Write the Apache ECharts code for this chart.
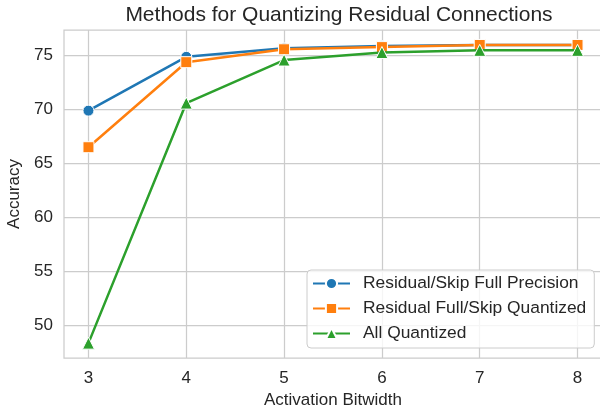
<!DOCTYPE html>
<html>
<head>
<meta charset="utf-8">
<script src="https://cdn.jsdelivr.net/npm/echarts@6/dist/echarts.min.js"></script>
<style>
  html, body { margin: 0; padding: 0; background: #fff; }
  #chart { width: 600px; height: 411px; }
</style>
</head>
<body>
<div id="chart"></div>
<script>
// bitwidths on the x axis
var bitwidths = [3, 4, 5, 6, 7, 8];
var yTicks = [50, 55, 60, 65, 70, 75];

// accuracy per method
var fullPrecision = [69.9, 74.9, 75.7, 75.9, 76.0, 76.0];
var residualFullSkipQuant = [66.5, 74.4, 75.6, 75.8, 76.0, 76.0];
var allQuantized = [48.3, 70.6, 74.6, 75.3, 75.5, 75.5];

var names = ['Residual/Skip Full Precision', 'Residual Full/Skip Quantized', 'All Quantized'];
var colors = ['#1f77b4', '#ff7f0e', '#2ca02c'];
var symbols = ['circle', 'rect', 'triangle'];
var symbolSizes = [11, 11, 12];

var font = '"Liberation Sans", Arial, sans-serif';
var textColor = '#262626';

function pairs(vals) {
  return bitwidths.map(function (b, i) { return [b, vals[i]]; });
}

var allData = [fullPrecision, residualFullSkipQuant, allQuantized];
var series = allData.map(function (vals, i) {
  return {
    name: names[i],
    type: 'line',
    data: pairs(vals),
    symbol: symbols[i],
    symbolSize: symbolSizes[i],
    showAllSymbol: true,
    lineStyle: { color: colors[i], width: 2.5 },
    itemStyle: { color: colors[i], borderColor: '#fff', borderWidth: 1 },
    emphasis: { disabled: true },
    z: 2 + i
  };
});

var chart = echarts.init(document.getElementById('chart'), null, { renderer: 'canvas' });
chart.setOption({
  animation: false,
  backgroundColor: '#fff',
  title: {
    text: 'Methods for Quantizing Residual Connections',
    left: 334,
    textAlign: 'center',
    top: 0,
    textStyle: { fontFamily: font, fontSize: 21, fontWeight: 'normal', color: textColor }
  },
  grid: {
    left: 64, top: 30, width: 538, height: 328,
    outerBoundsMode: 'none',
    containLabel: false,
    show: true, borderColor: '#cccccc', borderWidth: 1.25, backgroundColor: '#fff'
  },
  legend: {
    orient: 'vertical',
    left: 307, top: 270,
    padding: [5, 8, 6, 5],
    itemGap: 8,
    itemWidth: 37, itemHeight: 14,
    backgroundColor: 'rgba(255,255,255,0.8)',
    borderColor: '#cccccc', borderWidth: 1, borderRadius: 4,
    textStyle: { fontFamily: font, fontSize: 17.4, color: textColor, padding: [0, 0, 0, 8] },
    data: names
  },
  xAxis: {
    type: 'value',
    min: 2.75, max: 8.25,
    name: 'Activation Bitwidth',
    nameLocation: 'middle',
    nameGap: 34,
    nameTextStyle: { fontFamily: font, fontSize: 17, color: textColor },
    axisLine: { show: false },
    axisTick: { show: false, customValues: bitwidths },
    axisLabel: { customValues: bitwidths, fontFamily: font, fontSize: 17, color: textColor, margin: 12 },
    splitLine: { show: true, lineStyle: { color: '#cccccc', width: 1.25 } }
  },
  yAxis: {
    type: 'value',
    min: 46.92, max: 77.39,
    name: 'Accuracy',
    nameLocation: 'middle',
    nameGap: 38,
    nameTextStyle: { fontFamily: font, fontSize: 17, color: textColor },
    axisLine: { show: false },
    axisTick: { show: false, customValues: yTicks },
    axisLabel: { customValues: yTicks, fontFamily: font, fontSize: 17, color: textColor, margin: 11 },
    splitLine: { show: true, lineStyle: { color: '#cccccc', width: 1.25 } }
  },
  series: series
});
</script>
</body>
</html>
